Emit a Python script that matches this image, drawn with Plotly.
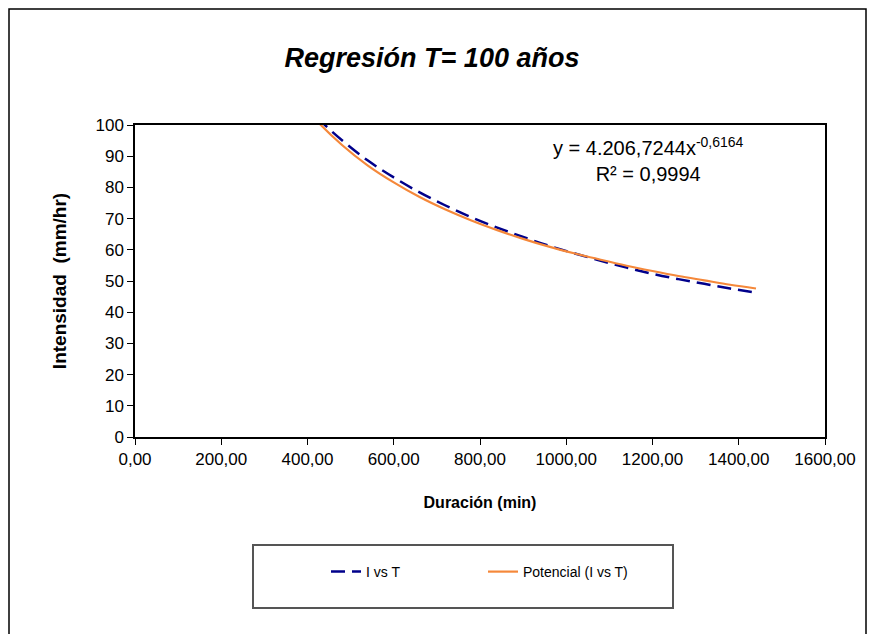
import plotly.graph_objects as go

# Data
duracion = [360, 420, 480, 540, 600, 660, 720, 780, 840, 900, 960, 1020,
            1080, 1140, 1200, 1260, 1320, 1380, 1440]
intensidad = [112.8, 102.8, 95.1, 88.6, 83.2, 78.4, 74.2, 70.4, 67.1, 64.1,
              61.3, 58.8, 56.5, 54.3, 52.3, 50.6, 49.1, 47.6, 46.3]
potencial = [111.8, 101.6, 93.6, 87.0, 81.6, 76.9, 72.9, 69.4, 66.3, 63.5,
             61.0, 58.8, 56.8, 54.9, 53.2, 51.6, 50.2, 48.8, 47.6]

titulo = "Regresión T= 100 años"
ecuacion = "y = 4.206,7244x<sup>-0,6164</sup><br>R² = 0,9994"
x_ticks = [0, 200, 400, 600, 800, 1000, 1200, 1400, 1600]
y_ticks = [0, 10, 20, 30, 40, 50, 60, 70, 80, 90, 100]

W, H = 876, 634
OFF = 8  # page body margin of the browser
L, T = 135 - OFF, 125 - OFF
PR, PB = 825 - OFF, 437 - OFF
R, B = W - PR, H - PB
pw, ph = PR - L, PB - T


def px_x(p):
    return (p - OFF - L) / pw


def px_y(p):
    return (PB - (p - OFF)) / ph


FONT = "Liberation Sans, Arial, sans-serif"

fig = go.Figure()
fig.add_trace(go.Scatter(
    x=duracion, y=intensidad, mode="lines", name="I vs T",
    line=dict(color="#00008B", width=2.5, dash="14px,7px", shape="spline"),
))
fig.add_trace(go.Scatter(
    x=duracion, y=potencial, mode="lines", name="Potencial (I vs T)",
    line=dict(color="#F5883A", width=2.2, shape="spline"),
))

fig.update_layout(
    width=W, height=H,
    margin=dict(l=L, r=R, t=T, b=B),
    paper_bgcolor="white", plot_bgcolor="white",
    separators=",.",
    font=dict(family=FONT, color="black"),
    title=dict(text="<b><i>" + titulo + "</i></b>", x=(432 - OFF) / W,
               xanchor="center", y=1 - (58 - OFF) / H, yanchor="middle",
               font=dict(size=27, color="black")),
    xaxis=dict(range=[0, 1600], tickvals=x_ticks, tickformat=".2f",
               showgrid=False, zeroline=False, showline=True, linecolor="black",
               linewidth=1.5, mirror=True, ticks="outside", ticklen=6,
               tickcolor="black", tickfont=dict(size=17),
               title=dict(text="<b>Duración (min)</b>", font=dict(size=16),
                          standoff=29)),
    yaxis=dict(range=[0, 100], tickvals=y_ticks, showgrid=False,
               zeroline=False, showline=True, linecolor="black", linewidth=1.5,
               mirror=True, ticks="outside", ticklen=6, tickcolor="black",
               tickfont=dict(size=17),
               title=dict(text="<b>Intensidad  (mm/hr)</b>", font=dict(size=19),
                          standoff=24)),
    showlegend=True,
    legend=dict(orientation="h", x=px_x(326), xanchor="left",
                y=px_y(572), yanchor="middle", bgcolor="rgba(0,0,0,0)",
                borderwidth=0, font=dict(size=14), entrywidth=112,
                entrywidthmode="pixels"),
    shapes=[
        dict(type="rect", xref="paper", yref="paper",
             x0=px_x(253), x1=px_x(673), y0=px_y(608), y1=px_y(545),
             line=dict(color="#555555", width=2), layer="below"),
        dict(type="rect", xref="paper", yref="paper",
             x0=px_x(9), x1=px_x(866), y0=px_y(660), y1=px_y(9),
             line=dict(color="black", width=1.5), layer="below"),
    ],
    annotations=[
        dict(text=ecuacion, xref="paper", yref="paper", x=px_x(648),
             y=px_y(159), xanchor="center", yanchor="middle", showarrow=False,
             align="center", font=dict(size=20, color="black")),
    ],
)

fig.write_html("out.html")
